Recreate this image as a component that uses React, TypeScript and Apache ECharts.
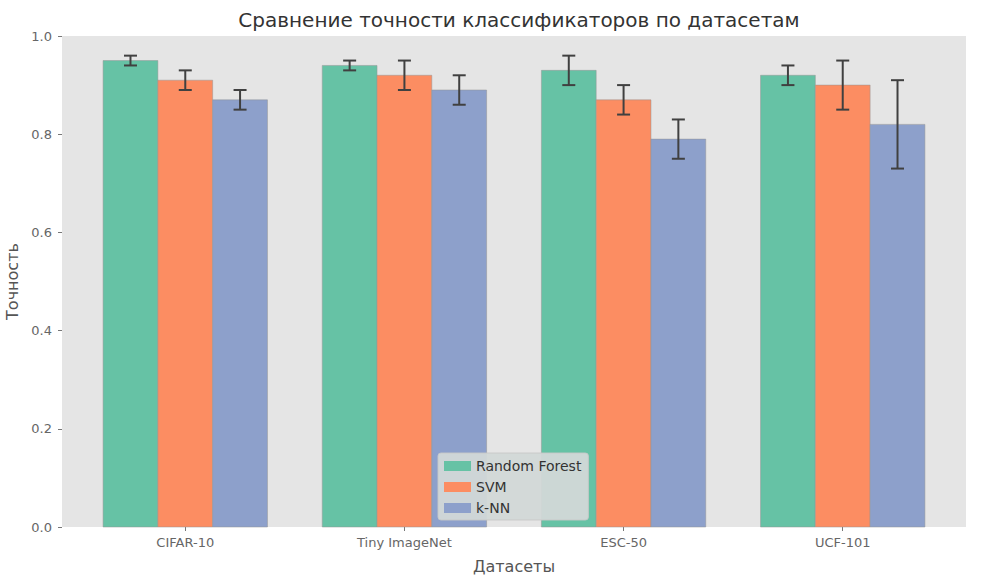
import React, { useEffect, useRef } from "react";
import * as echarts from "echarts";

const datasets = ["CIFAR-10", "Tiny ImageNet", "ESC-50", "UCF-101"];
const models = ["Random Forest", "SVM", "k-NN"];
const colors = ["#66c2a5", "#fc8d62", "#8da0cb"];

const rfAcc = [0.95, 0.94, 0.93, 0.92];
const rfErr = [0.01, 0.01, 0.03, 0.02];
const svmAcc = [0.91, 0.92, 0.87, 0.9];
const svmErr = [0.02, 0.03, 0.03, 0.05];
const knnAcc = [0.87, 0.89, 0.79, 0.82];
const knnErr = [0.02, 0.03, 0.04, 0.09];

const yTicks = [0, 0.2, 0.4, 0.6, 0.8, 1.0];
const xTicks = [0, 1, 2, 3];

const BAR_W = 0.25;
const FONT = "DejaVu Sans";

const App: React.FC = () => {
    const chartRef = useRef<HTMLDivElement>(null);

    useEffect(() => {
        if (!chartRef.current) return;
        const chart = echarts.init(chartRef.current, undefined, { renderer: "svg" });

        const accs = [rfAcc, svmAcc, knnAcc];
        const errs = [rfErr, svmErr, knnErr];

        // bars: one custom series per model, offset inside the group
        const barSeries = models.map((name, i) => ({
            name,
            type: "custom",
            itemStyle: { color: colors[i] },
            encode: { x: 0, y: 1 },
            data: accs[i].map((v, j) => [j + (i - 1) * BAR_W, v]),
            renderItem: (params: any, api: any) => {
                const x = api.value(0);
                const y = api.value(1);
                const p0 = api.coord([x - BAR_W / 2, y]);
                const p1 = api.coord([x + BAR_W / 2, 0]);
                return {
                    type: "rect",
                    shape: { x: p0[0], y: p0[1], width: p1[0] - p0[0], height: p1[1] - p0[1] },
                    style: { fill: colors[i], stroke: "rgba(150,150,150,0.5)", lineWidth: 1 },
                };
            },
            z: 2,
        }));

        // error bars with caps
        const errSeries = models.map((name, i) => ({
            name: name + " err",
            type: "custom",
            encode: { x: 0, y: 1 },
            data: accs[i].map((v, j) => [j + (i - 1) * BAR_W, v, errs[i][j]]),
            renderItem: (params: any, api: any) => {
                const x = api.value(0);
                const y = api.value(1);
                const e = api.value(2);
                const top = api.coord([x, y + e]);
                const bot = api.coord([x, y - e]);
                const cap = 6.5;
                const st = { stroke: "#404040", lineWidth: 2 };
                return {
                    type: "group",
                    children: [
                        { type: "line", shape: { x1: top[0], y1: top[1], x2: bot[0], y2: bot[1] }, style: st },
                        { type: "line", shape: { x1: top[0] - cap, y1: top[1], x2: top[0] + cap, y2: top[1] }, style: st },
                        { type: "line", shape: { x1: bot[0] - cap, y1: bot[1], x2: bot[0] + cap, y2: bot[1] }, style: st },
                    ],
                };
            },
            z: 3,
        }));

        const options = {
            animation: false,
            title: {
                text: "Сравнение точности классификаторов по датасетам",
                left: 514,
                textAlign: "center",
                top: 5,
                textStyle: { fontFamily: FONT, fontSize: 20, fontWeight: "normal", color: "#333333" },
            },
            legend: {
                data: models,
                orient: "vertical",
                left: 438,
                top: 453,
                itemWidth: 27,
                itemHeight: 10,
                itemGap: 7,
                icon: "rect",
                padding: [6, 7, 5, 6],
                backgroundColor: "rgba(210,216,215,0.95)",
                borderColor: "rgba(200,200,200,0.9)",
                borderWidth: 1,
                borderRadius: 3,
                textStyle: { fontFamily: FONT, fontSize: 14, color: "#333333" },
            },
            grid: {
                left: 62,
                right: 15,
                top: 36,
                bottom: 58,
                outerBoundsMode: "none",
                containLabel: false,
                show: true,
                backgroundColor: "#e5e5e5",
                borderWidth: 0,
            },
            xAxis: {
                type: "value",
                min: -0.5625,
                max: 3.5625,
                name: "Датасеты",
                nameLocation: "middle",
                nameGap: 31,
                nameTextStyle: { fontFamily: FONT, fontSize: 16, color: "#555555" },
                axisLine: { show: false, onZero: false },
                splitLine: { show: false },
                axisTick: { show: true, customValues: xTicks, length: 4, lineStyle: { color: "#777777" } },
                axisLabel: {
                    customValues: xTicks,
                    formatter: (v: number) => datasets[Math.round(v)] ?? "",
                    fontFamily: FONT,
                    fontSize: 13,
                    color: "#666666",
                    margin: 9,
                },
            },
            yAxis: {
                type: "value",
                min: 0,
                max: 1,
                name: "Точность",
                nameLocation: "middle",
                nameGap: 40,
                nameTextStyle: { fontFamily: FONT, fontSize: 16, color: "#555555" },
                axisLine: { show: false, onZero: false },
                splitLine: { show: false },
                axisTick: { show: true, customValues: yTicks, length: 4, lineStyle: { color: "#777777" } },
                axisLabel: {
                    customValues: yTicks,
                    formatter: (v: number) => v.toFixed(1),
                    fontFamily: FONT,
                    fontSize: 13,
                    color: "#666666",
                    margin: 10,
                },
            },
            series: [...barSeries, ...errSeries],
        };

        chart.setOption(options as any);

        return () => {
            chart.dispose();
        };
    }, []);

    return (
        <div
            ref={chartRef}
            style={{ position: "fixed", left: 0, top: 0, width: "981px", height: "585px", background: "#ffffff" }}
        />
    );
};

export default App;
